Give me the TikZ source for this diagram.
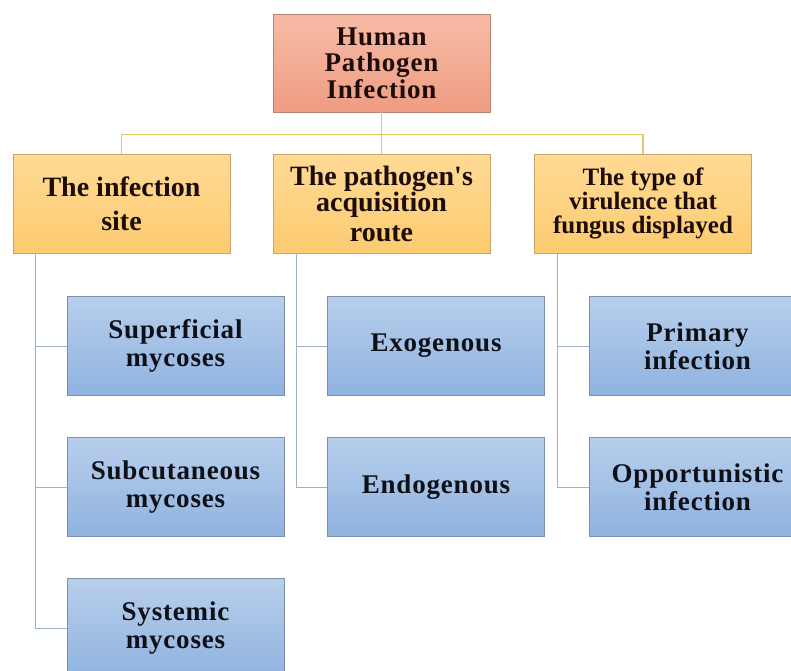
\documentclass[tikz,border=0pt]{standalone}
\usepackage{fontspec}
\setmainfont{Liberation Serif}
\newfontfamily\spacedfont[LetterSpace=3]{Liberation Serif}
\newfontfamily\catfont[Ligatures=TeXOff]{Liberation Serif}
\definecolor{rootTop}{HTML}{F7BBA6}
\definecolor{rootBot}{HTML}{EF9C82}
\definecolor{rootLine}{HTML}{B58573}
\definecolor{yelTop}{HTML}{FFDA95}
\definecolor{yelBot}{HTML}{FCCB70}
\definecolor{yelLine}{HTML}{C9A56C}
\definecolor{bluTop}{HTML}{B8CEEC}
\definecolor{bluBot}{HTML}{8FB3DF}
\definecolor{bluLine}{HTML}{7D90A8}
\definecolor{goldConn}{HTML}{E6C862}
\definecolor{blueConn}{HTML}{9DB2C6}
\definecolor{inkDark}{HTML}{1C0C0A}
\definecolor{inkBlue}{HTML}{0E1018}
\tikzset{
  boxbase/.style={rectangle, minimum width=217pt, inner sep=0pt, align=center, line width=0.9pt},
  rootbox/.style={boxbase, minimum height=98pt, top color=rootTop, bottom color=rootBot, draw=rootLine, text=inkDark,
     font=\spacedfont\bfseries\fontsize{27}{26.5}\selectfont},
  catbox/.style={boxbase, minimum height=99pt, top color=yelTop, bottom color=yelBot, draw=yelLine, text=inkDark,
     font=\catfont\bfseries\fontsize{28}{26}\selectfont},
  leafbox/.style={boxbase, minimum height=99pt, top color=bluTop, bottom color=bluBot, draw=bluLine, text=inkBlue,
     font=\spacedfont\bfseries\fontsize{27}{28}\selectfont},
  goldline/.style={draw=goldConn, line width=1.2pt},
  blueline/.style={draw=blueConn, line width=1pt}
}
\begin{document}
\begin{tikzpicture}[x=1pt,y=-1pt]
\clip (0,0) rectangle (791,670);
\fill[white] (0,0) rectangle (791,670);
% root
\node[rootbox] (root) at (381.5,63) {Human\\Pathogen\\Infection};
% categories
\node[catbox] (c1) at (121.5,203.5) {The infection\\[8pt]site};
\node[catbox] (c2) at (381.5,203.5) {The pathogen's\\acquisition\\[4pt]route};
\node[catbox, font=\catfont\bfseries\fontsize{25}{24}\selectfont] (c3) at (643,203.5) {The type of\\virulence that\\fungus displayed};
% leaves
\node[leafbox] (l11) at (175.5,346) {Superficial\\mycoses};
\node[leafbox] (l12) at (175.5,487) {Subcutaneous\\mycoses};
\node[leafbox] (l13) at (175.5,628) {Systemic\\mycoses};
\node[leafbox] (l21) at (436,346) {Exogenous};
\node[leafbox] (l22) at (436,487) {Endogenous};
\node[leafbox] (l31) at (697.5,346) {Primary\\infection};
\node[leafbox] (l32) at (697.5,487) {Opportunistic\\infection};
% gold connectors
\draw[goldline] (root.south) -- (c2.north);
\draw[goldline] (root.south) -- ++(0,22) -| (c1.north);
\draw[goldline] (root.south) -- ++(0,22) -| (c3.north);
% blue connectors
\coordinate (t1) at ([xshift=23pt]c1.south west);
\coordinate (t2) at ([xshift=24pt]c2.south west);
\coordinate (t3) at ([xshift=23pt]c3.south west);
\draw[blueline] (t1) |- (l11.west);
\draw[blueline] (t1) |- (l12.west);
\draw[blueline] (t1) |- (l13.west);
\draw[blueline] (t2) |- (l21.west);
\draw[blueline] (t2) |- (l22.west);
\draw[blueline] (t3) |- (l31.west);
\draw[blueline] (t3) |- (l32.west);
\end{tikzpicture}
\end{document}
